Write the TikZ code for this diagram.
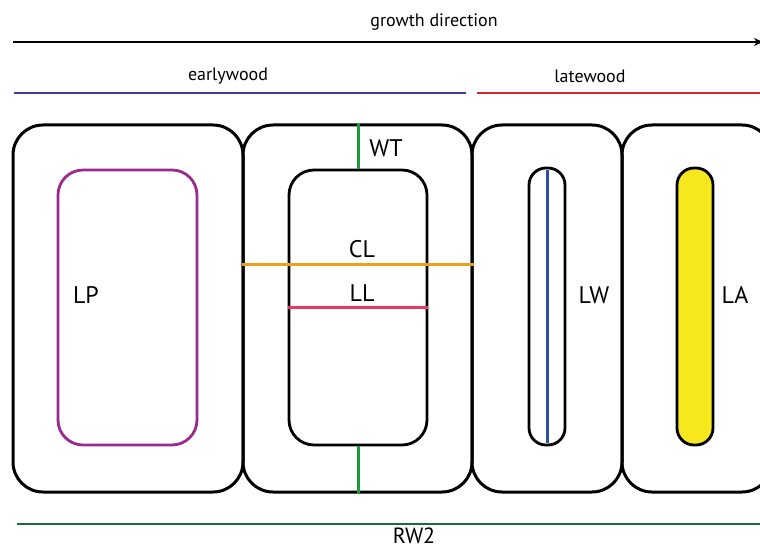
\documentclass[tikz,border=0pt]{standalone}
\usepackage{fontspec}
\setmainfont{PT Sans}
\usetikzlibrary{arrows.meta}
\definecolor{cpurple}{HTML}{9B2A8F}
\definecolor{corange}{HTML}{E8A21C}
\definecolor{cpink}{HTML}{E8395F}
\definecolor{cgreen}{HTML}{1E9A3A}
\definecolor{cblue}{HTML}{2D4FA0}
\definecolor{cyellow}{HTML}{F7E81D}
\definecolor{cearly}{HTML}{3F3F8F}
\definecolor{clate}{HTML}{C8283A}
\definecolor{crw}{HTML}{1D6B3B}
\begin{document}
\begin{tikzpicture}[x=1pt,y=-1pt,
  cellbox/.style={draw=black,line width=3pt,rounded corners=30pt,inner sep=0pt},
  lumenbox/.style={draw=black,line width=2.8pt,rounded corners=25pt,inner sep=0pt},
  measure/.style={line width=3pt},
  biglabel/.style={font=\fontsize{24}{28}\selectfont,inner sep=0pt},
  smalllabel/.style={font=\fontsize{18}{22}\selectfont,inner sep=0pt}]
\useasboundingbox (0,0) rectangle (760,548);
\clip (0,0) rectangle (760,548);
% top arrow and zones
\coordinate (aL) at (13,42);
\coordinate (aR) at (763,42);
\draw[line width=1.6pt,-{Stealth[length=9pt,width=8pt]}] (aL) -- (aR);
\node[smalllabel] (gd) at (434,22) {growth direction};
\coordinate (eL) at (14,93);
\coordinate (eR) at (466,93);
\coordinate (lL) at (477,93);
\coordinate (lR) at (762,93);
\draw[cearly,line width=2.6pt] (eL) -- (eR);
\draw[clate,line width=2.6pt] (lL) -- (lR);
\node[smalllabel] (ew) at (228,76) {earlywood};
\node[smalllabel] (lw) at (590,76) {latewood};
% cells
\node[cellbox,minimum width=230pt,minimum height=367pt] (c1) at (128,308.5) {};
\node[cellbox,minimum width=229pt,minimum height=367pt] (c2) at (357.5,308.5) {};
\node[cellbox,minimum width=150pt,minimum height=367pt] (c3) at (547,308.5) {};
\node[cellbox,minimum width=150pt,minimum height=367pt] (c4) at (697,308.5) {};
% lumens
\node[lumenbox,draw=cpurple,minimum width=139pt,minimum height=275pt] (lp) at (127.5,307.5) {};
\node[lumenbox,minimum width=138pt,minimum height=275pt] (lumen) at (358,307.5) {};
\node[lumenbox,rounded corners=17pt,minimum width=36pt,minimum height=277pt] (lwn) at (547,306.5) {};
\node[lumenbox,rounded corners=17pt,fill=cyellow,minimum width=36pt,minimum height=277pt] (la) at (695,306.5) {};
% measures
\draw[measure,cgreen] (c2.north -| lumen.north) -- (lumen.north);
\draw[measure,cgreen] (lumen.south) -- (c2.south -| lumen.south);
\coordinate (clL) at (c2.west |- 0,264);
\coordinate (clR) at (c2.east |- 0,264);
\draw[measure,corange] (clL) -- (clR);
\coordinate (llL) at (lumen.west |- 0,307);
\coordinate (llR) at (lumen.east |- 0,307);
\draw[measure,cpink] (llL) -- (llR);
\draw[measure,cblue] ([yshift=-3pt]lwn.north) -- ([yshift=3pt]lwn.south);
% labels
\node[biglabel] (wt) at (386,148) {WT};
\node[biglabel] (cl) at (362,249) {CL};
\node[biglabel] (ll) at (362,293) {LL};
\node[biglabel] (lpl) at (86,295) {LP};
\node[biglabel] (lwl) at (594,295) {LW};
\node[biglabel] (lal) at (735,295) {LA};
% ring width
\coordinate (rL) at (17,524);
\coordinate (rR) at (762,524);
\draw[crw,line width=2.6pt] (rL) -- (rR);
\node[biglabel,font=\fontsize{22}{26}\selectfont,text depth=0pt,anchor=base] (rw) at (414,543) {RW2};
\end{tikzpicture}
\end{document}
